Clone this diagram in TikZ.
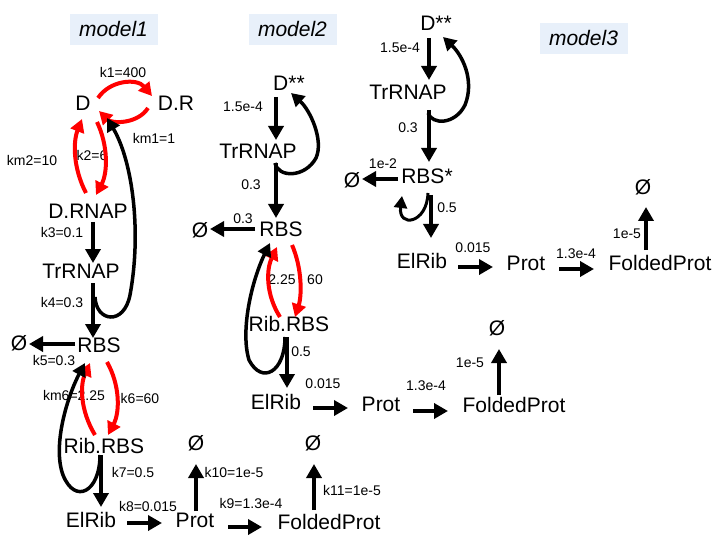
\documentclass[tikz,border=0pt]{standalone}
\usepackage{fontspec}
\setmainfont{Liberation Sans}
\usetikzlibrary{arrows.meta,calc}
\definecolor{titlebg}{RGB}{232,240,250}
\definecolor{rxred}{RGB}{255,0,0}
\tikzset{
  species/.style={inner sep=0pt,font=\fontsize{21}{25}\selectfont},
  rate/.style={inner sep=0pt,font=\fontsize{14}{16}\selectfont},
  title/.style={fill=titlebg,minimum width=88pt,minimum height=31pt,inner sep=0pt,font=\fontsize{21}{25}\selectfont\itshape},
  arr/.style={line width=4pt,-{Triangle[length=14pt,width=15pt]}},
  loop/.style={line width=3.5pt,-{Triangle[length=13pt,width=14pt]}},
  redarr/.style={draw=rxred,line width=4pt,-{Triangle[length=13pt,width=14pt]},color=rxred},
}
\begin{document}
\begin{tikzpicture}[x=1pt,y=-1pt]
\useasboundingbox (0,0) rectangle (720,540);
% ---------------- titles
\node[title] (t1) at (113.5,29.5) {model1};
\node[title] (t2) at (292.5,29.5) {model2};
\node[title] (t3) at (583.5,38.5) {model3};

% ---------------- model 1
\node[species] (m1D) at (83,103) {D};
\node[species] (m1DR) at (176,103) {D.R};
\node[species] (m1DRNAP) at (88,211) {D.RNAP};
\node[species] (m1Tr) at (81,271) {TrRNAP};
\node[species] (m1RBS) at (99,345) {RBS};
\node[species] (m1O1) at (19,343) {Ø};
\node[species] (m1Rib) at (104,446) {Rib.RBS};
\node[species] (m1El) at (91,520) {ElRib};
\node[species] (m1Prot) at (195,520) {Prot};
\node[species] (m1O2) at (196,443) {Ø};
\node[species] (m1Fold) at (329,522) {FoldedProt};
\node[species] (m1O3) at (313,443) {Ø};

\node[rate] (l1) at (123,72) {k1=400};
\node[rate] (l2) at (154,138) {km1=1};
\node[rate] (l3) at (32,160) {km2=10};
\node[rate] (l4) at (92,155) {k2=6};
\node[rate] (l5) at (62,232) {k3=0.1};
\node[rate] (l6) at (62,302) {k4=0.3};
\node[rate] (l7) at (54,360) {k5=0.3};
\node[rate] (l8) at (74,395) {km6=2.25};
\node[rate] (l9) at (140,398) {k6=60};
\node[rate] (l10) at (133,472) {k7=0.5};
\node[rate] (l11) at (148,506) {k8=0.015};
\node[rate] (l12) at (251,503) {k9=1.3e-4};
\node[rate] (l13) at (234,472) {k10=1e-5};
\node[rate] (l14) at (352,490) {k11=1e-5};

\draw[redarr] ($(m1D)+(15,-5)$) .. controls (110,80) and (137,78) .. ($(m1DR)+(-24,-7)$);
\draw[redarr] ($(m1DR)+(-28,5)$) .. controls (138,124) and (112,124) .. ($(m1D)+(16,8)$);
\draw[redarr] ($(m1DRNAP)+(-2,-18)$) .. controls (73,168) and (73,142) .. ($(m1D)+(-1,16)$);
\draw[redarr] ($(m1D)+(14,19)$) .. controls (108,145) and (108,172) .. ($(m1DRNAP)+(8,-16)$);
\draw[loop] ($(m1Tr)+(14,26)$) .. controls (96,322) and (124,326) .. (130,295)
   .. controls (142,230) and (132,160) .. ($(m1D)+(24,15)$);
\draw[arr] ($(m1DRNAP)+(5,11)$) -- ($(m1Tr)+(12,-8)$);
\draw[arr] ($(m1Tr)+(12,12)$) -- ($(m1RBS)+(-6,-7)$);
\draw[arr] ($(m1RBS)+(-24,-1)$) -- ($(m1O1)+(10,1)$);
\draw[redarr] ($(m1Rib)+(-9,-11)$) .. controls (80,410) and (80,385) .. ($(m1RBS)+(-9,18)$);
\draw[redarr] ($(m1RBS)+(8,17)$) .. controls (120,385) and (120,412) .. ($(m1Rib)+(4,-11)$);
\draw[loop] ($(m1Rib)+(-4,9)$) .. controls (100,492) and (75,505) .. (63,475)
   .. controls (52,445) and (68,395) .. ($(m1RBS)+(-14,18)$);
\draw[arr] ($(m1Rib)+(-3,9)$) -- ($(m1El)+(10,-13)$);
\draw[arr] ($(m1El)+(36,3)$) -- ($(m1Prot)+(-33,3)$);
\draw[arr] ($(m1Prot)+(1,-9)$) -- ($(m1O2)+(0,21)$);
\draw[arr] ($(m1Prot)+(33,7)$) -- ($(m1Fold)+(-67,5)$);
\draw[arr] ($(m1Fold)+(-15,-12)$) -- ($(m1O3)+(1,21)$);

% ---------------- model 2
\node[species] (m2D) at (289,83) {D**};
\node[species] (m2Tr) at (258,151) {TrRNAP};
\node[species] (m2RBS) at (281,229) {RBS};
\node[species] (m2O1) at (200,230) {Ø};
\node[species] (m2Rib) at (289,324) {Rib.RBS};
\node[species] (m2El) at (276,402) {ElRib};
\node[species] (m2Prot) at (381,404) {Prot};
\node[species] (m2Fold) at (514,405) {FoldedProt};
\node[species] (m2O2) at (497,328) {Ø};

\node[rate] (n1) at (243,107) {1.5e-4};
\node[rate] (n2) at (251,185) {0.3};
\node[rate] (n3) at (243,219) {0.3};
\node[rate] (n4) at (282,280) {2.25};
\node[rate] (n5) at (315,280) {60};
\node[rate] (n6) at (301,352) {0.5};
\node[rate] (n7) at (323,384) {0.015};
\node[rate] (n8) at (426,386) {1.3e-4};
\node[rate] (n9) at (470,363) {1e-5};

\draw[arr] ($(m2D)+(-13,14)$) -- ($(m2Tr)+(18,-11)$);
\draw[loop] ($(m2Tr)+(17,12)$) .. controls (278,178) and (305,178) .. (316,158)
   .. controls (324,140) and (310,110) .. ($(m2D)+(2,10)$);
\draw[arr] ($(m2Tr)+(18,12)$) -- ($(m2RBS)+(-5,-11)$);
\draw[arr] ($(m2RBS)+(-26,0)$) -- ($(m2O1)+(10,-1)$);
\draw[redarr] ($(m2Rib)+(-9,-7)$) .. controls (266,295) and (266,270) .. ($(m2RBS)+(-4,18)$);
\draw[redarr] ($(m2RBS)+(11,16)$) .. controls (302,268) and (302,295) .. ($(m2Rib)+(6,-7)$);
\draw[loop] ($(m2Rib)+(-4,13)$) .. controls (285,372) and (262,385) .. (249,360)
   .. controls (240,330) and (252,280) .. ($(m2RBS)+(-11,14)$);
\draw[arr] ($(m2Rib)+(-2,13)$) -- ($(m2El)+(11,-14)$);
\draw[arr] ($(m2El)+(37,6)$) -- ($(m2Prot)+(-33,4)$);
\draw[arr] ($(m2Prot)+(32,7)$) -- ($(m2Fold)+(-66,6)$);
\draw[arr] ($(m2Fold)+(-15,-10)$) -- ($(m2O2)+(2,21)$);

% ---------------- model 3
\node[species] (m3D) at (436,23) {D**};
\node[species] (m3Tr) at (408,92) {TrRNAP};
\node[species] (m3RBS) at (427,176) {RBS*};
\node[species] (m3O1) at (352,180) {Ø};
\node[species] (m3El) at (422,261) {ElRib};
\node[species] (m3Prot) at (526,263) {Prot};
\node[species] (m3Fold) at (660,263) {FoldedProt};
\node[species] (m3O2) at (643,187) {Ø};

\node[rate] (p1) at (400,48) {1.5e-4};
\node[rate] (p2) at (408,128) {0.3};
\node[rate] (p3) at (383,164) {1e-2};
\node[rate] (p4) at (447,208) {0.5};
\node[rate] (p5) at (473,248) {0.015};
\node[rate] (p6) at (576,254) {1.3e-4};
\node[rate] (p7) at (627,234) {1e-5};

\draw[arr] ($(m3D)+(-7,15)$) -- ($(m3Tr)+(21,-12)$);
\draw[loop] ($(m3Tr)+(20,21)$) .. controls (432,125) and (455,125) .. (465,105)
   .. controls (475,80) and (462,55) .. ($(m3D)+(7,14)$);
\draw[arr] ($(m3Tr)+(21,18)$) -- ($(m3RBS)+(2,-14)$);
\draw[arr] ($(m3RBS)+(-29,3)$) -- ($(m3O1)+(10,-1)$);
\draw[line width=3pt,-{Triangle[length=12pt,width=13pt]}] ($(m3RBS)+(1,17)$) .. controls (427,224) and (398,228) .. ($(m3RBS)+(-25,20)$);
\draw[arr] ($(m3RBS)+(4,19)$) -- ($(m3El)+(9,-23)$);
\draw[arr] ($(m3El)+(36,6)$) -- ($(m3Prot)+(-33,4)$);
\draw[arr] ($(m3Prot)+(33,6)$) -- ($(m3Fold)+(-66,6)$);
\draw[arr] ($(m3Fold)+(-14,-13)$) -- ($(m3O2)+(3,20)$);
\end{tikzpicture}
\end{document}
